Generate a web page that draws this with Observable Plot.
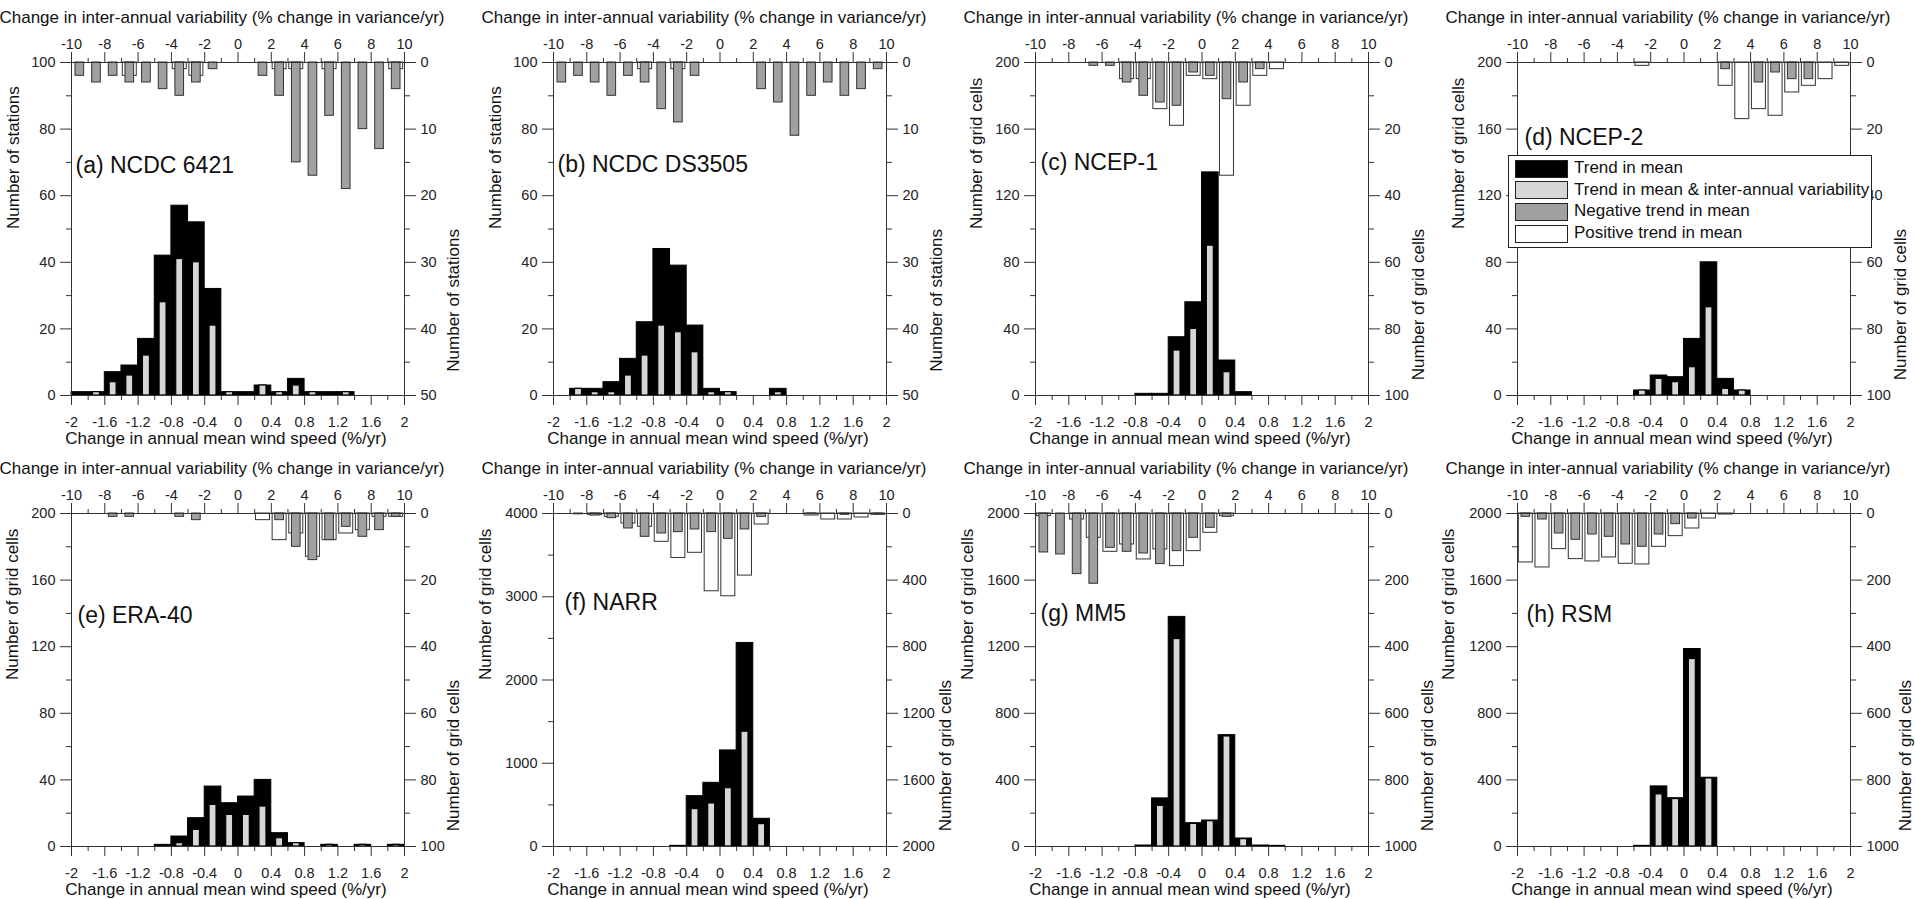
<!DOCTYPE html>
<html><head><meta charset="utf-8">
<script src="https://cdn.jsdelivr.net/npm/d3@7"></script>
<script src="https://cdn.jsdelivr.net/npm/@observablehq/plot@0.6"></script>
<style>
body{margin:0;background:#fff;overflow:hidden;font-family:"Liberation Sans",Arial,sans-serif;}
#grid{display:grid;grid-template-columns:repeat(4,482px);grid-template-rows:repeat(2,451px);width:1928px;}
#grid svg{overflow:visible;}
#legend{position:absolute;left:1508px;top:155px;width:362px;height:91px;border:1.5px solid #222;background:#fff;}
#legend .sw{position:absolute;left:6px;width:51px;height:16px;border:1.5px solid #222;}
#legend .lt{position:absolute;left:65px;font-size:17px;line-height:18px;color:#111;white-space:nowrap;}
</style></head><body>
<div id="grid"></div>
<div id="legend"></div>
<script>
// Bin centres and tick labels
const meanBins = [-1.9,-1.7,-1.5,-1.3,-1.1,-0.9,-0.7,-0.5,-0.3,-0.1,0.1,0.3,0.5,0.7,0.9,1.1,1.3,1.5,1.7,1.9];
const varBins = [-9.5,-8.5,-7.5,-6.5,-5.5,-4.5,-3.5,-2.5,-1.5,-0.5,0.5,1.5,2.5,3.5,4.5,5.5,6.5,7.5,8.5,9.5];
const meanTicks = [-2,-1.6,-1.2,-0.8,-0.4,0,0.4,0.8,1.2,1.6,2];
const varTicks = [-10,-8,-6,-4,-2,0,2,4,6,8,10];
const leftTicksStations = [0,20,40,60,80,100];
const rightTicksStations = [0,10,20,30,40,50];
const leftTicks200 = [0,40,80,120,160,200];
const rightTicks100 = [0,20,40,60,80,100];
const leftTicks4000 = [0,1000,2000,3000,4000];
const rightTicks2000 = [0,400,800,1200,1600,2000];
const leftTicks2000 = [0,400,800,1200,1600,2000];
const rightTicks1000 = [0,200,400,600,800,1000];

// (a) NCDC 6421
const trendA = [1,1,7,9,17,42,57,52,32,1,1,3,1,5,1,1,1,0,0,0];
const bothA  = [0,1,4,6,12,28,41,40,21,1,0,3,1,3,1,0,1,0,0,0];
const negA   = [2,3,2,3,3,4,5,3,1,0,0,2,5,15,17,8,19,10,13,4];
const posA   = [0,0,0,2,0,0,1,2,0,0,0,0,1,1,0,1,0,0,0,1];
// (b) NCDC DS3505
const trendB = [0,2,2,4,11,22,44,39,21,2,1,0,0,2,0,0,0,0,0,0];
const bothB  = [0,2,1,1,6,12,21,19,13,1,1,0,0,1,0,0,0,0,0,0];
const negB   = [3,2,3,5,2,3,7,9,2,0,0,0,4,6,11,5,3,5,4,1];
const posB   = [0,0,0,0,0,1,0,1,0,0,0,0,0,0,0,0,0,0,0,0];
// (c) NCEP-1
const trendC = [0,0,0,0,0,0,1,1,35,56,134,21,2,0,0,0,0,0,0,0];
const bothC  = [0,0,0,0,0,0,0,0,27,40,90,14,0,0,0,0,0,0,0,0];
const negC   = [0,0,0,1,1,6,10,12,13,3,4,11,6,2,0,0,0,0,0,0];
const posC   = [0,0,0,0,0,5,5,14,19,4,5,34,13,4,2,0,0,0,0,0];
// (d) NCEP-2
const trendD = [0,0,0,0,0,0,0,3,12,11,34,80,10,3,0,0,0,0,0,0];
const bothD  = [0,0,0,0,0,0,0,3,10,8,17,53,4,3,0,0,0,0,0,0];
const negD   = [0,0,0,0,0,0,0,0,0,0,0,0,2,0,6,3,5,5,0,0];
const posD   = [0,0,0,0,0,0,0,1,0,0,0,0,7,17,14,16,9,7,5,1];
// (e) ERA-40
const trendE = [0,0,0,0,0,1,6,17,36,26,30,40,8,2,0,1,0,1,0,1];
const bothE  = [0,0,0,0,0,0,2,10,25,19,19,24,5,2,0,1,0,1,0,1];
const negE   = [0,0,1,1,0,0,1,2,0,0,0,0,2,10,14,8,4,7,5,1];
const posE   = [0,0,0,0,0,0,0,0,0,0,0,2,8,6,13,8,6,5,1,1];
// (f) NARR
const trendF = [0,0,0,0,0,0,0,8,605,765,1154,2445,333,0,0,0,0,0,0,0];
const bothF  = [0,0,0,0,0,0,0,0,449,517,701,1379,269,0,0,0,0,0,0,0];
const negF   = [0,5,12,28,90,140,120,112,96,112,152,96,20,0,0,4,0,8,0,4];
const posF   = [0,0,10,20,60,80,170,267,236,467,497,373,66,0,0,12,36,36,24,8];
// (g) MM5
const trendG = [0,0,0,0,0,0,6,289,1379,140,156,669,48,6,4,0,0,0,0,0];
const bothG  = [0,0,0,0,0,0,0,244,1246,136,152,661,44,0,0,0,0,0,0,0];
const negG   = [117,123,182,211,103,115,120,152,113,73,43,10,0,0,0,0,0,0,0,0];
const posG   = [8,0,18,73,115,93,138,108,158,113,58,8,0,0,0,0,0,0,0,0];
// (h) RSM
const trendH = [0,0,0,0,0,0,0,4,361,290,1186,413,0,0,0,0,0,0,0,0];
const bothH  = [0,0,0,0,0,0,0,0,313,285,1126,409,0,0,0,0,0,0,0,0];
const negH   = [10,18,60,79,63,70,93,100,63,32,15,0,0,0,0,0,0,0,0,0];
const posH   = [147,162,107,137,144,132,151,153,100,68,45,15,3,0,0,0,0,0,0,0];

const legendLabels = ["Trend in mean","Trend in mean & inter-annual variability","Negative trend in mean","Positive trend in mean"];
const BLACK = "#000", LIGHT = "#d6d6d6", GRAY = "#a0a0a0", WHITE = "#fff";
const legendColors = [BLACK, LIGHT, GRAY, WHITE];

const topTitle = "Change in inter-annual variability (% change in variance/yr)";
const bottomTitle = "Change in annual mean wind speed (%/yr)";

const panels = [
  {title:"(a) NCDC 6421", ylab:"Number of stations", yMax:100, lt:leftTicksStations, rt:rightTicksStations, trend:trendA, both:bothA, neg:negA, pos:posA, tdx:4, tdy:103, ldx:-58, rdx:49},
  {title:"(b) NCDC DS3505", ylab:"Number of stations", yMax:100, lt:leftTicksStations, rt:rightTicksStations, trend:trendB, both:bothB, neg:negB, pos:posB, tdx:4, tdy:102, ldx:-58, rdx:50},
  {title:"(c) NCEP-1", ylab:"Number of grid cells", yMax:200, lt:leftTicks200, rt:rightTicks100, trend:trendC, both:bothC, neg:negC, pos:posC, tdx:5, tdy:100, ldx:-59, rdx:50},
  {title:"(d) NCEP-2", ylab:"Number of grid cells", yMax:200, lt:leftTicks200, rt:rightTicks100, trend:trendD, both:bothD, neg:negD, pos:posD, tdx:7, tdy:75, ldx:-59, rdx:50},
  {title:"(e) ERA-40", ylab:"Number of grid cells", yMax:200, lt:leftTicks200, rt:rightTicks100, trend:trendE, both:bothE, neg:negE, pos:posE, tdx:6, tdy:102, ldx:-59, rdx:49},
  {title:"(f) NARR", ylab:"Number of grid cells", yMax:4000, lt:leftTicks4000, rt:rightTicks2000, trend:trendF, both:bothF, neg:negF, pos:posF, tdx:11, tdy:89, ldx:-68, rdx:59},
  {title:"(g) MM5", ylab:"Number of grid cells", yMax:2000, lt:leftTicks2000, rt:rightTicks1000, trend:trendG, both:bothG, neg:negG, pos:posG, tdx:5, tdy:100, ldx:-68, rdx:59},
  {title:"(h) RSM", ylab:"Number of grid cells", yMax:2000, lt:leftTicks2000, rt:rightTicks1000, trend:trendH, both:bothH, neg:negH, pos:posH, tdx:9, tdy:101, ldx:-69, rdx:55}
];

const mid = arr => d3.pairs(arr).map(([a, b]) => (a + b) / 2);
const FS = 14.5;

function makePanel(p) {
  const rows = meanBins.map((c, i) => ({c, t: p.trend[i], b: p.both[i]}));
  const vrows = varBins.map((v, i) => ({v, n: p.neg[i], q: p.pos[i]}));
  const toLeft = r => p.yMax - 2 * r;
  const txt = {text: d => d, fontSize: 17, fill: "#111", lineAnchor: "middle"};
  return Plot.plot({
    width: 482, height: 451,
    marginLeft: 71, marginRight: 78, marginTop: 62, marginBottom: 56,
    style: {fontFamily: "'Liberation Sans', Arial, sans-serif", fontSize: FS + "px", color: "#222", background: "transparent", overflow: "visible"},
    x: {domain: [-2, 2]},
    y: {domain: [0, p.yMax]},
    marks: [
      Plot.rect(rows.filter(d => d.t > 0), {x1: d => d.c - 0.1, x2: d => d.c + 0.1, y1: 0, y2: d => d.t, fill: BLACK, stroke: BLACK, strokeWidth: 1}),
      Plot.rect(rows.filter(d => d.b > 0), {x1: d => d.c - 0.042, x2: d => d.c + 0.042, y1: 0, y2: d => d.b, fill: LIGHT, stroke: BLACK, strokeWidth: 1.2}),
      Plot.rect(vrows.filter(d => d.q > 0), {x1: d => (d.v - 0.42) / 5, x2: d => (d.v + 0.42) / 5, y1: p.yMax, y2: d => toLeft(d.q), fill: WHITE, stroke: "#333", strokeWidth: 1}),
      Plot.rect(vrows.filter(d => d.n > 0), {x1: d => (d.v - 0.26) / 5, x2: d => (d.v + 0.26) / 5, y1: p.yMax, y2: d => toLeft(d.n), fill: GRAY, stroke: "#333", strokeWidth: 1}),
      Plot.frame({stroke: "#333", strokeWidth: 1}),
      Plot.axisX({anchor: "bottom", ticks: meanTicks, tickSize: 10, tickPadding: 11, tickFormat: d => String(d), label: null, stroke: "#333"}),
      Plot.axisX({anchor: "bottom", ticks: mid(meanTicks), tickSize: 5, tickFormat: () => "", label: null, stroke: "#333"}),
      Plot.axisX({anchor: "top", ticks: varTicks.map(v => v / 5), tickSize: 11, tickPadding: 3, tickFormat: d => String(Math.round(d * 5)), label: null, stroke: "#333"}),
      Plot.axisX({anchor: "top", ticks: mid(varTicks).map(v => v / 5), tickSize: 5, tickFormat: () => "", label: null, stroke: "#333"}),
      Plot.axisY({anchor: "left", ticks: p.lt, tickSize: 11, tickPadding: 5, tickFormat: d => String(d), label: null, stroke: "#333"}),
      Plot.axisY({anchor: "left", ticks: mid(p.lt), tickSize: 5, tickFormat: () => "", label: null, stroke: "#333"}),
      Plot.axisY({anchor: "right", ticks: p.rt.map(toLeft), tickSize: 11, tickPadding: 5, tickFormat: d => String((p.yMax - d) / 2), label: null, stroke: "#333"}),
      Plot.axisY({anchor: "right", ticks: mid(p.rt).map(toLeft), tickSize: 5, tickFormat: () => "", label: null, stroke: "#333"}),
      Plot.text([topTitle], {...txt, frameAnchor: "top", dx: -16, dy: -45}),
      Plot.text([bottomTitle], {...txt, frameAnchor: "bottom", dx: -12, dy: 43}),
      Plot.text([p.ylab], {...txt, frameAnchor: "left", dx: p.ldx, rotate: -90}),
      Plot.text([p.ylab], {...txt, frameAnchor: "right", dx: p.rdx, rotate: -90}),
      Plot.text([p.title], {...txt, frameAnchor: "top-left", dx: p.tdx, dy: p.tdy, textAnchor: "start", fontSize: 23})
    ]
  });
}

const grid = document.getElementById("grid");
for (const p of panels) grid.appendChild(makePanel(p));

const legend = document.getElementById("legend");
legendLabels.forEach((lab, i) => {
  const c = 13 + i * 21.7;
  const sw = document.createElement("div");
  sw.className = "sw";
  sw.style.top = (c - 9.5) + "px";
  sw.style.background = legendColors[i];
  legend.appendChild(sw);
  const t = document.createElement("div");
  t.className = "lt";
  t.style.top = (c - 10) + "px";
  t.textContent = lab;
  legend.appendChild(t);
});
</script>
</body></html>
